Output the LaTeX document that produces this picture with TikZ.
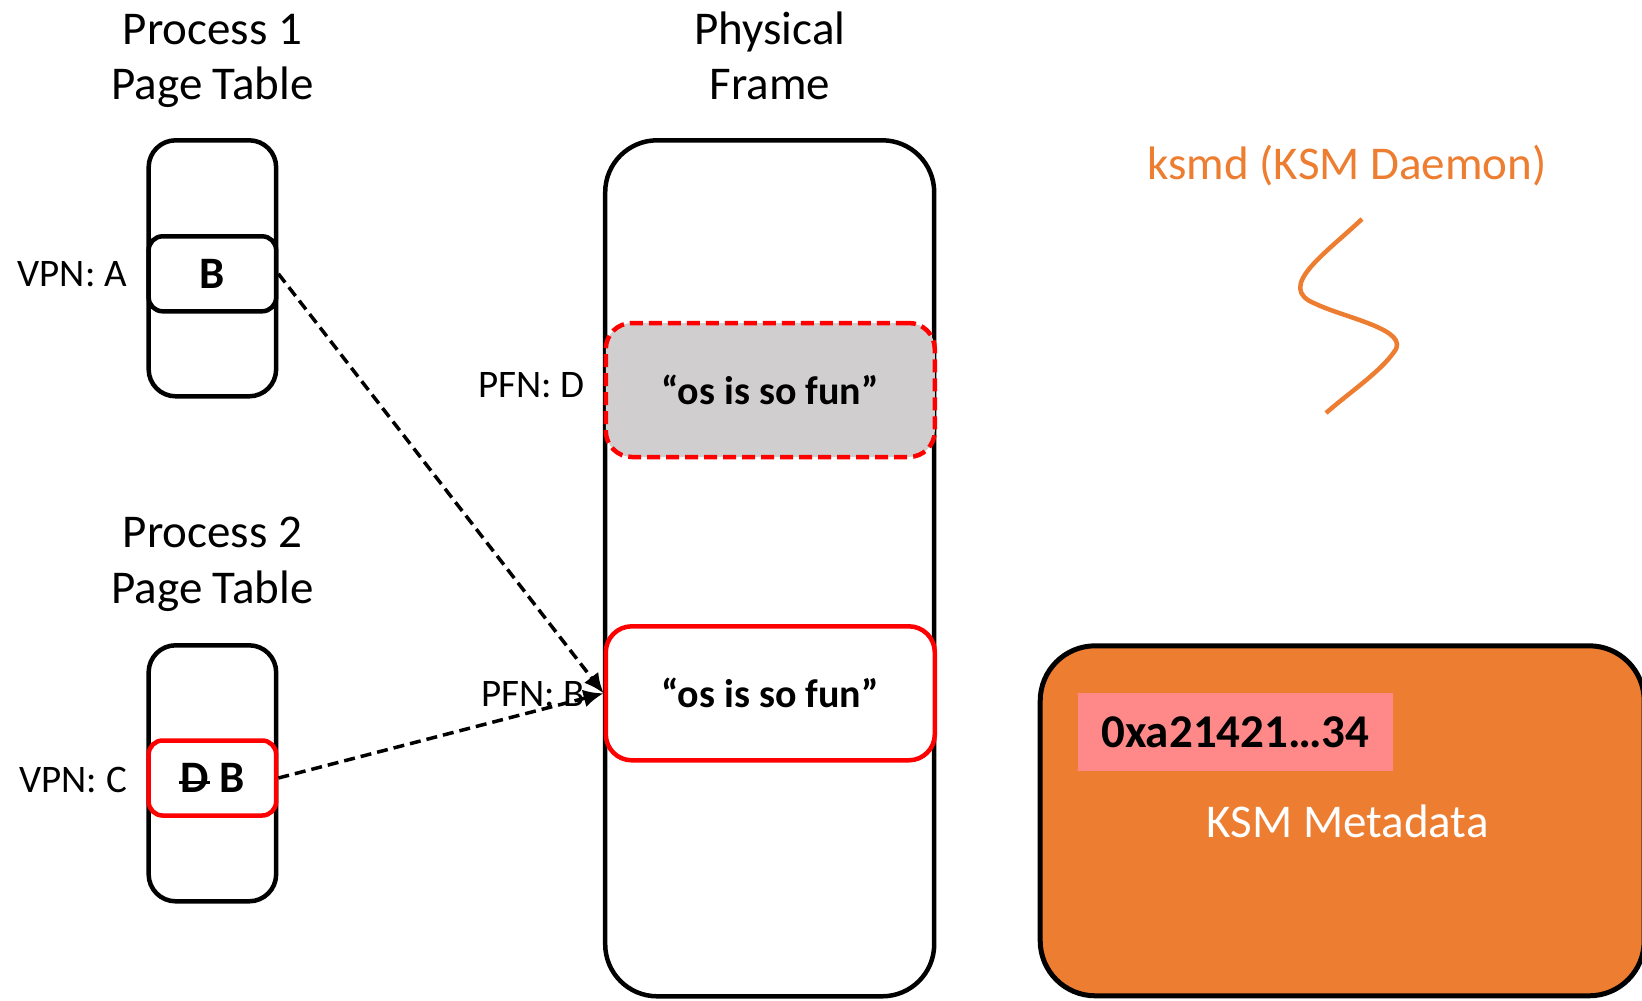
\documentclass[tikz,border=0pt]{standalone}
\usepackage{fontspec}
\setmainfont{Carlito}
\usetikzlibrary{arrows.meta}

\definecolor{ksmorange}{HTML}{ED7D31}
\definecolor{pagegray}{HTML}{D0CECE}
\definecolor{hashpink}{HTML}{FF8989}
\definecolor{alertred}{HTML}{FF0000}

\newcommand\fsHead{\fontsize{47}{56}\selectfont}
\newcommand\fsLabel{\fontsize{39}{47}\selectfont}
\newcommand\fsEntry{\fontsize{45}{54}\selectfont\bfseries}
\newcommand\fsSlot{\fontsize{40}{48}\selectfont\bfseries}
\newcommand\fsHash{\fontsize{47}{56}\selectfont\bfseries}

\begin{document}
\begin{tikzpicture}[x=1pt,y=-1pt,
  head/.style={font=\fsHead, anchor=base, inner sep=0pt},
  lbl/.style={font=\fsLabel, anchor=base east, inner sep=0pt},
  tablebox/.style={draw, line width=4.5pt, rounded corners=27pt,
    minimum width=127.5pt, minimum height=256pt, inner sep=0pt},
  entrybox/.style={draw, fill=white, line width=4.5pt, rounded corners=14pt,
    minimum width=127.5pt, minimum height=75pt, inner sep=0pt, font=\fsEntry},
  framebox/.style={draw, line width=4.5pt, rounded corners=52pt,
    minimum width=329pt, minimum height=856pt, inner sep=0pt},
  slotbox/.style={line width=4.5pt, rounded corners=26pt,
    minimum width=329pt, minimum height=134pt, inner sep=0pt, font=\fsSlot},
  link/.style={line width=3.5pt, dash pattern=on 11pt off 6pt,
    -{Latex[length=20pt,width=18pt]}},
  ]
  % canvas
  \fill[white] (0,0) rectangle (1642,1001);
  \useasboundingbox (0,0) rectangle (1642,1001);

  % headings
  \node[head] (h1a) at (212.5,44) {Process 1};
  \node[head] (h1b) at (212.5,99.5) {Page Table};
  \node[head] (hfa) at (770,44) {Physical};
  \node[head] (hfb) at (770,99.5) {Frame};
  \node[head] (h2a) at (212.5,547.7) {Process 2};
  \node[head] (h2b) at (212.5,603) {Page Table};

  % process 1 page table
  \node[tablebox] (pt1) at (212.4,268.3) {};
  \node[entrybox] (e1) at (212.4,273.8) {B};
  \node[lbl] (vpnA) at (127,286) {VPN: A};

  % process 2 page table
  \node[tablebox] (pt2) at (212.4,773.3) {};
  \node[entrybox, draw=alertred] (e2) at (212.4,778)
    {\rlap{\kern-1.5pt\rule[9pt]{31pt}{3pt}}D B};
  \node[lbl] (vpnC) at (127,792) {VPN: C};

  % physical frames
  \node[framebox] (frame) at (769.7,568.3) {};
  \node[slotbox, draw=alertred, fill=pagegray, dash pattern=on 13pt off 6pt]
    (physD) at (770.3,390) {“os is so fun”};
  \node[slotbox, draw=alertred, fill=white] (physB) at (770.3,693.3)
    {“os is so fun”};
  \node[lbl] (pfnD) at (585,397.3) {PFN: D};
  \node[lbl] (pfnB) at (585,706) {PFN: B};

  % mappings
  \draw[link] (e1.east) -- (physB.west);
  \draw[link] (e2.east) -- (physB.west);

  % ksm daemon
  \node[font=\fsHead, text=ksmorange, anchor=base, inner sep=0pt] (ksmd)
    at (1347,179.3) {ksmd (KSM Daemon)};
  \draw[ksmorange, line width=4.5pt]
    (1362,219) .. controls (1325,254) and (1274,288) .. (1316,304)
    .. controls (1345,318) and (1412,330) .. (1394,352)
    .. controls (1380,372) and (1350,392) .. (1326,413);

  % ksm metadata
  \node[draw, fill=ksmorange, line width=5pt, rounded corners=55pt,
    minimum width=604pt, minimum height=350pt, inner sep=0pt]
    (meta) at (1342.2,820.8) {};
  \node[fill=hashpink, minimum width=314.5pt, minimum height=77.7pt,
    inner sep=0pt, font=\fsHash] (hash) at (1235.3,731.9) {0xa21421…34};
  \node[font=\fsHead, text=white, anchor=base, inner sep=0pt] (metalbl)
    at (1347.7,837.3) {KSM Metadata};
\end{tikzpicture}
\end{document}
